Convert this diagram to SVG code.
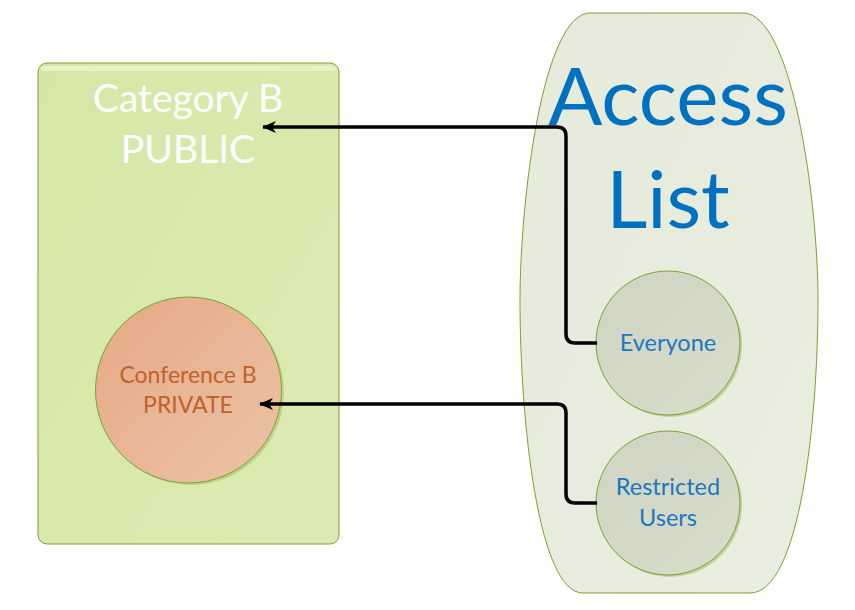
<svg xmlns="http://www.w3.org/2000/svg" width="855" height="610" viewBox="0 0 855 610">
<defs>
<linearGradient id="gRect" x1="0" y1="0" x2="1" y2="1">
<stop offset="0" stop-color="#d5e7a6"/><stop offset="1" stop-color="#dcebb4"/>
</linearGradient>
<linearGradient id="gAcc" x1="0" y1="0" x2="1" y2="1">
<stop offset="0" stop-color="#e5eadb"/><stop offset="1" stop-color="#e9eee0"/>
</linearGradient>
<linearGradient id="gUser" x1="0" y1="0" x2="1" y2="1">
<stop offset="0" stop-color="#d0d4c2"/><stop offset="1" stop-color="#d8dccb"/>
</linearGradient>
<linearGradient id="gConf" x1="0" y1="0" x2="1" y2="1">
<stop offset="0" stop-color="#e6a986"/><stop offset="1" stop-color="#ebc3a6"/>
</linearGradient>
<marker id="arr" viewBox="0 0 14 12" refX="13" refY="6" markerWidth="14" markerHeight="12" markerUnits="userSpaceOnUse" orient="auto">
<path d="M14,6 L0,0 L4,6 L0,12 Z" fill="#000"/>
</marker>
<style>
.lbl{font-family:Lato,"Open Sans","Liberation Sans",sans-serif;text-anchor:middle}
.conn{fill:none;stroke:#000;stroke-width:3.5;stroke-linejoin:round}
.ring{stroke:#7e9f33;stroke-width:1}
.shadow{fill:#b3c77a;opacity:0.7}
</style>
</defs>
<rect width="855" height="610" fill="#fff"/>
<g id="category-b">
<rect x="38" y="63" width="301" height="481" rx="9" fill="url(#gRect)" class="ring"/>
<rect x="41" y="66" width="295" height="5" rx="3" fill="#e6f1c6"/>
<text class="lbl" x="188" y="112" font-size="39" fill="#ffffff">Category B</text>
<text class="lbl" x="188" y="163" font-size="39" fill="#ffffff">PUBLIC</text>
</g>
<g id="conference-b">
<circle cx="191" cy="392" r="93" class="shadow"/>
<circle cx="188.5" cy="390" r="93" fill="url(#gConf)" class="ring"/>
<text class="lbl" x="188" y="383" font-size="23" fill="#c0612b">Conference B</text>
<text class="lbl" x="188" y="413" font-size="23" fill="#c0612b">PRIVATE</text>
</g>
<g id="access-list">
<path d="M590,13 L743,13 C792,13 818,200 818,300 C818,420 800,593 750,593 L583,593 C538,593 520,420 520,300 C520,200 543,13 590,13 Z" fill="url(#gAcc)" stroke="#7e9f33" stroke-width="1"/>
<text class="lbl" x="668" y="125" font-size="80" fill="#0070c0">Access</text>
<text class="lbl" x="668" y="228" font-size="80" fill="#0070c0">List</text>
</g>
<g id="everyone">
<circle cx="670" cy="345" r="72" class="shadow"/>
<circle cx="668" cy="343" r="72" fill="url(#gUser)" class="ring"/>
<text class="lbl" x="668" y="351" font-size="23.5" fill="#1a78c2">Everyone</text>
</g>
<g id="restricted-users">
<circle cx="670" cy="505" r="72" class="shadow"/>
<circle cx="668" cy="503" r="72" fill="url(#gUser)" class="ring"/>
<text class="lbl" x="668" y="495" font-size="23.5" fill="#1a78c2">Restricted</text>
<text class="lbl" x="668" y="526" font-size="23.5" fill="#1a78c2">Users</text>
</g>
<g id="connectors">
<path class="conn" d="M597,343 L575,343 Q566,343 566,334 L566,136 Q566,127 557,127 L263,127" marker-end="url(#arr)"/>
<path class="conn" d="M597,503 L575,503 Q566,503 566,494 L566,413 Q566,404 557,404 L260,404" marker-end="url(#arr)"/>
</g>
</svg>
